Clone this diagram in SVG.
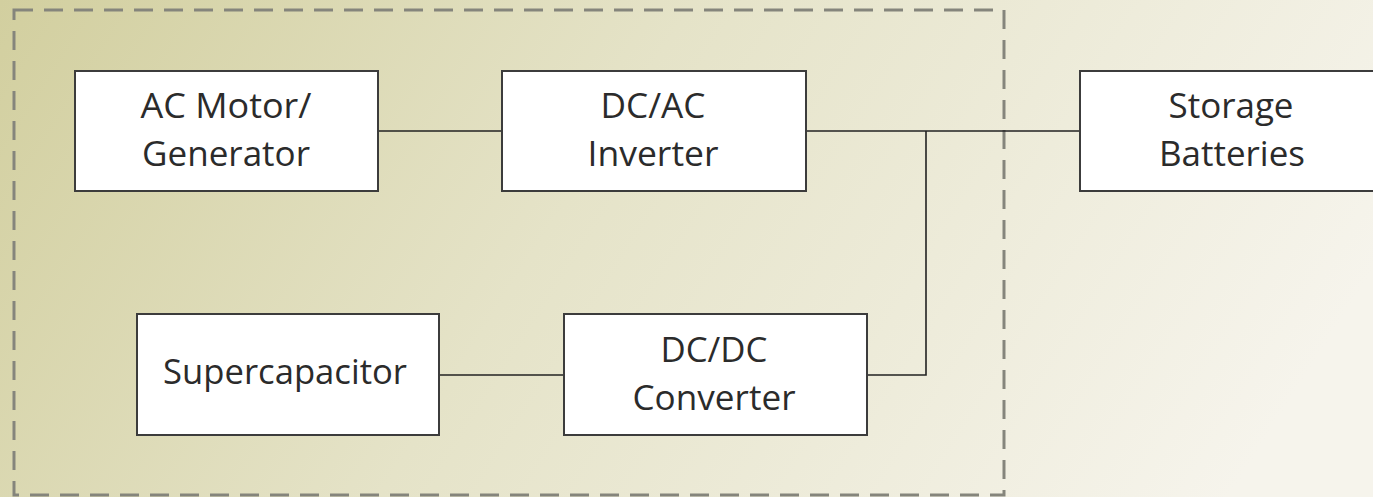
<svg xmlns="http://www.w3.org/2000/svg" width="1373" height="497" viewBox="0 0 1373 497">
<defs>
<linearGradient id="bg" gradientUnits="userSpaceOnUse" x1="0" y1="0" x2="1100" y2="700">
<stop offset="0" stop-color="#d2cf9f"/>
<stop offset="0.45" stop-color="#e5e3c8"/>
<stop offset="1" stop-color="#f6f4ec"/>
</linearGradient>
<style>
.box{fill:#ffffff;stroke:#3c3c3c;stroke-width:2}
.lbl{font-family:"Open Sans","Liberation Sans",sans-serif;font-size:35px;fill:#2b2b2b;text-anchor:middle}
.wire{stroke:#222222;stroke-width:1.6;fill:none}
.frame{fill:none;stroke:#85857c;stroke-width:3;stroke-dasharray:19 11}
</style>
</defs>
<rect x="0" y="0" width="1373" height="497" fill="url(#bg)"/>
<rect class="frame" x="14" y="10" width="990" height="485"/>
<g id="connectors">
<line class="wire" x1="378" y1="131" x2="502" y2="131"/>
<line class="wire" x1="806" y1="131" x2="1080" y2="131"/>
<polyline class="wire" points="867,375 926,375 926,131"/>
<line class="wire" x1="440" y1="375" x2="564" y2="375"/>
</g>
<g id="ac-motor">
<rect class="box" x="75" y="71" width="303" height="120"/>
<text class="lbl" x="226" y="118" textLength="171" lengthAdjust="spacingAndGlyphs">AC Motor/</text>
<text class="lbl" x="226" y="166" textLength="168" lengthAdjust="spacingAndGlyphs">Generator</text>
</g>
<g id="inverter">
<rect class="box" x="502" y="71" width="304" height="120"/>
<text class="lbl" x="653" y="118" textLength="105" lengthAdjust="spacingAndGlyphs">DC/AC</text>
<text class="lbl" x="653" y="166" textLength="131" lengthAdjust="spacingAndGlyphs">Inverter</text>
</g>
<g id="storage">
<rect class="box" x="1080" y="71" width="303" height="120"/>
<text class="lbl" x="1231" y="118" textLength="125" lengthAdjust="spacingAndGlyphs">Storage</text>
<text class="lbl" x="1232" y="166" textLength="146" lengthAdjust="spacingAndGlyphs">Batteries</text>
</g>
<g id="supercapacitor">
<rect class="box" x="137" y="314" width="302" height="121"/>
<text class="lbl" x="285" y="384" textLength="244" lengthAdjust="spacingAndGlyphs">Supercapacitor</text>
</g>
<g id="dcdc">
<rect class="box" x="564" y="314" width="303" height="121"/>
<text class="lbl" x="714" y="362" textLength="107" lengthAdjust="spacingAndGlyphs">DC/DC</text>
<text class="lbl" x="714" y="410" textLength="163" lengthAdjust="spacingAndGlyphs">Converter</text>
</g>
</svg>
